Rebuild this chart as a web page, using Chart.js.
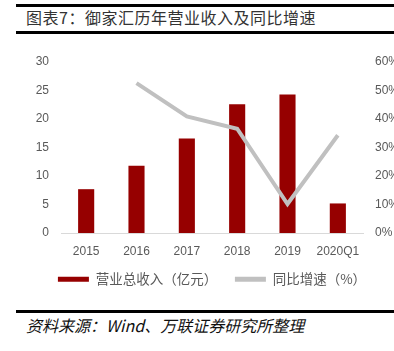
<!DOCTYPE html>
<html>
<head>
<meta charset="utf-8">
<script src="https://cdn.jsdelivr.net/npm/chart.js@4/dist/chart.umd.min.js"></script>
<style>
body{margin:0;width:394px;height:351px;background:#fff;position:relative;overflow:hidden;font-family:"Noto Sans CJK SC",sans-serif}
.rule{position:absolute;left:16px;width:378px;height:2.5px;background:#000}
#title{position:absolute;left:26px;top:5px;font-size:16px;color:#333;white-space:nowrap;letter-spacing:0.5px}
#source{position:absolute;left:26px;top:313px;font-size:16px;font-style:italic;color:#111;white-space:nowrap}
#box{position:absolute;left:0;top:40px;width:424px;height:256px}
</style>
</head>
<body>
<div class="rule" style="top:4px"></div>
<div id="title">图表7：御家汇历年营业收入及同比增速</div>
<div class="rule" style="top:31px"></div>
<div id="box"><canvas id="canvasRevenue"></canvas></div>
<div class="rule" style="top:310px"></div>
<div id="source">资料来源：Wind、万联证券研究所整理</div>
<script>
// data
let years=['2015','2016','2017','2018','2019','2020Q1']
let revenue=[7.7,11.8,16.6,22.6,24.3,5.2]
let growth=[null,52.6,40.9,36.6,10.2,34.3]

let tickFont={family:'"Liberation Sans", Arial, sans-serif',size:12}
let tickColor='#595959'

function buildRevenue(){
    let myChart={
        data:{
            labels:years,
            datasets:[{
                type:'bar',
                label:'营业总收入（亿元）',
                data:revenue,
                backgroundColor:'#960000',
                yAxisID:'y',
                categoryPercentage:1,
                barPercentage:0.32,
                order:2
            },{
                type:'line',
                label:'同比增速（%）',
                data:growth,
                borderColor:'#c0c0c0',
                backgroundColor:'#c0c0c0',
                borderWidth:4,
                pointRadius:0,
                tension:0,
                yAxisID:'y1',
                order:1
            }]
        },
        options:{
            responsive:true,
            maintainAspectRatio:false,
            animation:false,
            layout:{padding:{top:22,bottom:0,left:0,right:0}},
            plugins:{
                tooltip:{enabled:false},
                legend:{
                    position:'bottom',
                    labels:{
                        boxWidth:31,
                        boxHeight:5,
                        padding:11,
                        color:tickColor,
                        font:{family:'"Noto Sans CJK SC", sans-serif',size:13.5},
                        sort:function(a,b){return a.datasetIndex-b.datasetIndex},
                        generateLabels:function(chart){
                            let items=Chart.defaults.plugins.legend.labels.generateLabels(chart)
                            items.forEach(function(it){
                                it.lineWidth=0
                                it.fillStyle=chart.data.datasets[it.datasetIndex].backgroundColor
                                // wider gap after the first item
                                if(it.datasetIndex==0) it.text=it.text+'\u3000'
                            })
                            return items
                        }
                    }
                }
            },
            scales:{
                x:{
                    offset:true,
                    grid:{display:false},
                    border:{color:'#d9d9d9',width:1},
                    ticks:{color:tickColor,font:tickFont,padding:3,maxRotation:0}
                },
                y:{
                    position:'left',
                    min:0,max:30,
                    ticks:{stepSize:5,color:tickColor,font:tickFont,padding:4},
                    grid:{display:false},
                    border:{display:false},
                    afterFit:function(s){s.width=61}
                },
                y1:{
                    position:'right',
                    min:0,max:60,
                    ticks:{stepSize:10,color:tickColor,font:tickFont,padding:4,
                        callback:function(v){return v+'%'}},
                    grid:{display:false},
                    border:{display:false},
                    afterFit:function(s){s.width=61}
                }
            }
        }
    }
    let ctx=document.getElementById('canvasRevenue').getContext('2d')
    new Chart(ctx,myChart)
}

buildRevenue()
</script>
</body>
</html>
